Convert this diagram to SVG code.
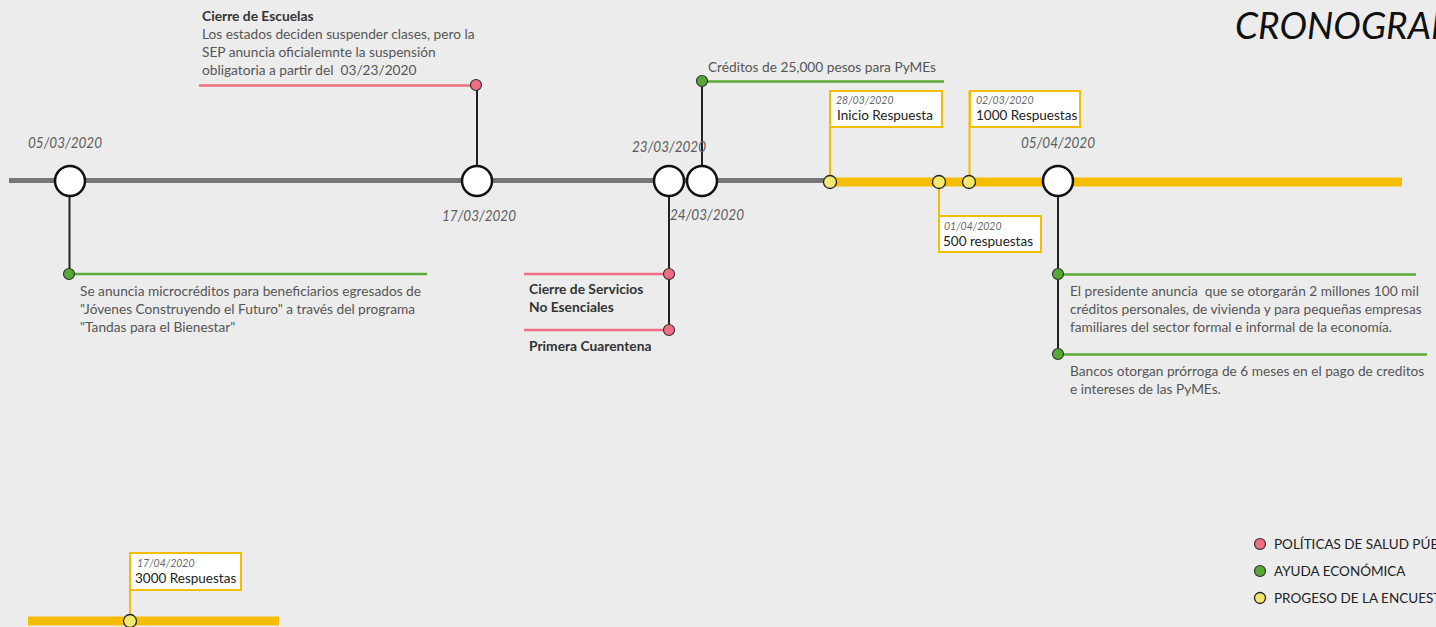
<svg xmlns="http://www.w3.org/2000/svg" width="1436" height="627" viewBox="0 0 1436 627">
<style>
text{font-family:Lato,"Open Sans","Liberation Sans",sans-serif;white-space:pre}
.body{font-size:13.7px;fill:#555}
.bold{font-size:13.8px;fill:#333;font-weight:bold}
.date{font-size:15px;fill:#5c5c5c;font-style:italic}
.sdate{font-size:10.5px;fill:#666;font-style:italic}
.lbl{font-size:13.5px;fill:#222}
.big{fill:#fff;stroke:#111;stroke-width:2.5}
.pink{fill:#ef6f82;stroke:#333;stroke-width:1.2}
.green{fill:#58a835;stroke:#333;stroke-width:1.2}
.yel{fill:#f3e86f;stroke:#222;stroke-width:1.3}
.stem{stroke:#222;stroke-width:2;fill:none}
.pl{stroke:#ef6f82;stroke-width:2.5;fill:none}
.gl{stroke:#5aaa35;stroke-width:2.5;fill:none}
.yl{stroke:#f5bd00;stroke-width:2;fill:none}
.box{fill:#fff;stroke:#f5bd00;stroke-width:2}
.leg{font-size:13.5px;fill:#222}
</style>
<rect width="1436" height="627" fill="#ececec"/>
<text x="1235" y="39" style="font-size:37px;font-style:italic;fill:#111">CRONOGRAMA</text>

<g id="connectors">
<line x1="9" y1="180.5" x2="830" y2="180.5" stroke="#777" stroke-width="5"/>
<line x1="830" y1="182" x2="1402" y2="182" stroke="#f5bd00" stroke-width="9"/>
<line x1="28" y1="621" x2="279" y2="621" stroke="#f5bd00" stroke-width="9"/>
<line class="stem" x1="69.5" y1="181" x2="69.5" y2="274"/>
<line class="gl" x1="69" y1="274" x2="427" y2="274"/>
<line class="stem" x1="477" y1="85" x2="477" y2="181"/>
<line class="pl" x1="199" y1="85.5" x2="476" y2="85.5"/>
<line class="stem" x1="669" y1="181" x2="669" y2="330"/>
<line class="pl" x1="524" y1="274" x2="669" y2="274"/>
<line class="pl" x1="524" y1="330" x2="669" y2="330"/>
<line class="stem" x1="702" y1="81" x2="702" y2="181"/>
<line class="gl" x1="702" y1="81.5" x2="944" y2="81.5"/>
<line class="stem" x1="1058" y1="181" x2="1058" y2="354"/>
<line class="gl" x1="1058" y1="274.5" x2="1416" y2="274.5"/>
<line class="gl" x1="1058" y1="354.5" x2="1427" y2="354.5"/>
<line class="yl" x1="830" y1="91" x2="830" y2="182"/>
<line class="yl" x1="969.5" y1="91" x2="969.5" y2="182"/>
<line class="yl" x1="939" y1="182" x2="939" y2="252"/>
<line class="yl" x1="130" y1="553" x2="130" y2="621"/>
</g>

<g id="n0503">
<circle class="big" cx="70" cy="181" r="15"/>
<text class="date" x="28" y="148" textLength="74" lengthAdjust="spacingAndGlyphs">05/03/2020</text>
<circle class="green" cx="69" cy="274" r="5.5"/>
<text class="body" x="80" y="296">Se anuncia microcréditos para beneficiarios egresados de</text>
<text class="body" x="80" y="314">"Jóvenes Construyendo el Futuro" a través del programa</text>
<text class="body" x="80" y="332">"Tandas para el Bienestar"</text>
</g>

<g id="n1703">
<circle class="big" cx="477" cy="181" r="15"/>
<text class="date" x="442" y="221" textLength="74" lengthAdjust="spacingAndGlyphs">17/03/2020</text>
<circle class="pink" cx="476" cy="85" r="5.5"/>
<text class="bold" x="202" y="21">Cierre de Escuelas</text>
<text class="body" x="202" y="39">Los estados deciden suspender clases, pero la</text>
<text class="body" x="202" y="57">SEP anuncia oficialemnte la suspensión</text>
<text class="body" x="202" y="75">obligatoria a partir del  03/23/2020</text>
</g>

<g id="n2303">
<circle class="big" cx="669" cy="181" r="15"/>
<text class="date" x="632" y="152" textLength="74" lengthAdjust="spacingAndGlyphs">23/03/2020</text>
<circle class="pink" cx="669" cy="274" r="5.5"/>
<circle class="pink" cx="669" cy="330" r="5.5"/>
<text class="bold" x="529" y="294">Cierre de Servicios</text>
<text class="bold" x="529" y="312">No Esenciales</text>
<text class="bold" x="529" y="351">Primera Cuarentena</text>
</g>

<g id="n2403">
<circle class="big" cx="702" cy="181" r="15"/>
<text class="date" x="670" y="220" textLength="74" lengthAdjust="spacingAndGlyphs">24/03/2020</text>
<circle class="green" cx="702" cy="81" r="5.5"/>
<text class="body" x="708" y="72">Créditos de 25,000 pesos para PyMEs</text>
</g>

<g id="n2803">
<rect class="box" x="830" y="91" width="112" height="36"/>
<circle class="yel" cx="830" cy="182" r="6.5"/>
<text class="sdate" x="836" y="104">28/03/2020</text>
<text class="lbl" x="837" y="120">Inicio Respuesta</text>
</g>

<g id="n0104">
<rect class="box" x="939" y="216" width="102" height="36"/>
<circle class="yel" cx="939" cy="182" r="6.5"/>
<text class="sdate" x="944" y="230">01/04/2020</text>
<text class="lbl" x="943" y="246">500 respuestas</text>
</g>

<g id="n0203">
<rect class="box" x="970" y="91" width="110" height="36"/>
<circle class="yel" cx="969" cy="182" r="6.5"/>
<text class="sdate" x="976" y="104">02/03/2020</text>
<text class="lbl" x="976" y="120">1000 Respuestas</text>
</g>

<g id="n0504">
<circle class="big" cx="1058" cy="181" r="15"/>
<text class="date" x="1021" y="148" textLength="74" lengthAdjust="spacingAndGlyphs">05/04/2020</text>
<circle class="green" cx="1058" cy="274" r="5.5"/>
<circle class="green" cx="1058" cy="354" r="5.5"/>
<text class="body" x="1070" y="296">El presidente anuncia  que se otorgarán 2 millones 100 mil</text>
<text class="body" x="1070" y="314">créditos personales, de vivienda y para pequeñas empresas</text>
<text class="body" x="1070" y="332">familiares del sector formal e informal de la economía.</text>
<text class="body" x="1070" y="376">Bancos otorgan prórroga de 6 meses en el pago de creditos</text>
<text class="body" x="1070" y="394">e intereses de las PyMEs.</text>
</g>

<g id="n1704">
<rect class="box" x="130" y="553" width="111" height="37"/>
<circle class="yel" cx="130" cy="621" r="6.5"/>
<text class="sdate" x="137" y="567">17/04/2020</text>
<text class="lbl" x="135" y="583">3000 Respuestas</text>
</g>

<g id="legend">
<circle class="pink" cx="1260" cy="544" r="5.5"/>
<text class="leg" x="1274" y="549">POLÍTICAS DE SALUD PÚBLICA</text>
<circle class="green" cx="1260" cy="571" r="5.5"/>
<text class="leg" x="1274" y="576">AYUDA ECONÓMICA</text>
<circle class="yel" cx="1260" cy="598" r="5.5"/>
<text class="leg" x="1274" y="603">PROGESO DE LA ENCUESTA</text>
</g>
</svg>
